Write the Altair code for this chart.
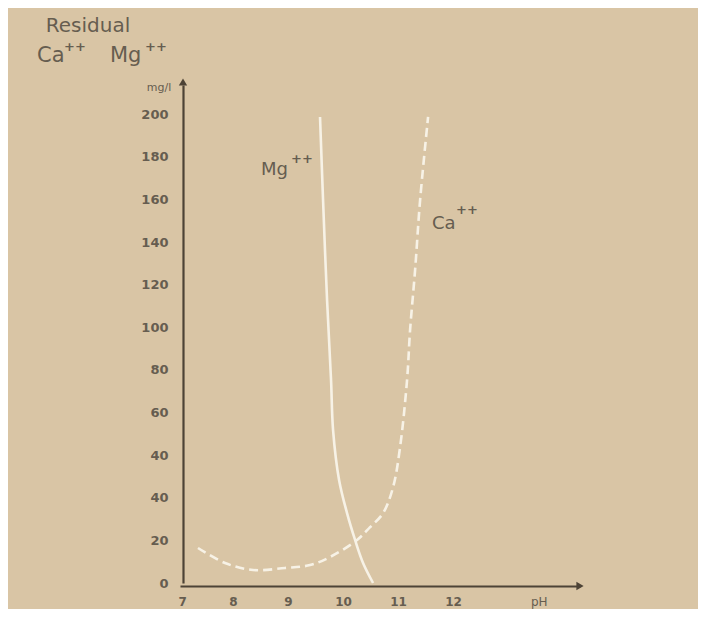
import altair as alt
import pandas as pd

# Tick labels on the vertical axis (as printed, including the repeated 40)
y_tick_labels = ["0", "20", "40", "40", "60", "80", "100", "120", "140", "160", "180", "200"]
x_ticks = [7, 8, 9, 10, 11, 12]

# Mg++ residual curve (pH, position in axis steps)
mg_ph = [9.545, 9.600, 9.673, 9.745, 9.782, 9.891, 10.036, 10.182, 10.327, 10.509]
mg_level = [10.94, 8.99, 6.64, 4.77, 3.59, 2.42, 1.64, 1.01, 0.47, 0.0]

# Ca++ residual curve (pH, position in axis steps)
ca_ph = [7.327, 7.818, 8.327, 8.909, 9.364, 9.727, 10.218, 10.455, 10.691, 10.873,
         11.000, 11.127, 11.182, 11.273, 11.364, 11.509]
ca_level = [0.822, 0.469, 0.305, 0.352, 0.42, 0.61, 1.01, 1.31, 1.64, 2.25,
            3.19, 4.77, 5.94, 7.35, 8.99, 10.94]

BG = "#d9c5a5"
AXIS = "#4d4336"
TXT = "#665d50"
LINE = "#f7f2e6"
W, H = 400, 498

mg = pd.DataFrame({"pH": mg_ph, "level": mg_level})
ca = pd.DataFrame({"pH": ca_ph, "level": ca_level})

xscale = alt.Scale(domain=[7, 14.27], nice=False, zero=False)
yscale = alt.Scale(domain=[0, 11.69], nice=False, zero=False)

label_js = "[" + ",".join("'%s'" % s for s in y_tick_labels) + "]"

xaxis = alt.Axis(values=x_ticks, ticks=False, grid=False, domainColor=AXIS, domainWidth=2.2,
                 labelColor=TXT, labelFontSize=12, labelFont="DejaVu Sans", labelFontWeight="bold",
                 labelPadding=10, title=None, offset=3, labelOffset=-2)
yaxis = alt.Axis(values=list(range(len(y_tick_labels))), ticks=False, grid=False, domainColor=AXIS,
                 domainWidth=2.2, labelColor=TXT, labelFontSize=13, labelFont="DejaVu Sans",
                 labelFontWeight="bold", labelPadding=15, title=None, offset=-3,
                 labelExpr=label_js + "[round(datum.value)]")

mg_line = alt.Chart(mg).mark_line(color=LINE, strokeWidth=2.6, interpolate="catmull-rom").encode(
    x=alt.X("pH:Q", scale=xscale, axis=xaxis),
    y=alt.Y("level:Q", scale=yscale, axis=yaxis),
)
ca_line = alt.Chart(ca).mark_line(color=LINE, strokeWidth=2.6, strokeDash=[9, 5],
                                  interpolate="catmull-rom").encode(
    x=alt.X("pH:Q", scale=xscale),
    y=alt.Y("level:Q", scale=yscale),
)

arrow_df = pd.DataFrame({"a": [0]})
arrow_up = alt.Chart(arrow_df).mark_point(shape="triangle-up", filled=True, color=AXIS, size=70,
                                          opacity=1).encode(x=alt.value(3), y=alt.value(-3))
arrow_right = alt.Chart(arrow_df).mark_point(shape="triangle-right", filled=True, color=AXIS, size=70,
                                             opacity=1).encode(x=alt.value(W), y=alt.value(H + 3))


def label(text, x, y, size, align="left", weight="normal"):
    return alt.Chart(arrow_df).mark_text(text=text, fontSize=size, color=TXT, font="DejaVu Sans",
                                         align=align, baseline="middle", fontWeight=weight).encode(
        x=alt.value(x), y=alt.value(y))


texts = [
    label("Residual", -92, -59, 20, align="center"),
    label("Ca", -143, -29, 21),
    label("++", -116, -38, 13, weight="bold"),
    label("Mg", -70, -29, 21),
    label("++", -35, -38, 13, weight="bold"),
    label("mg/l", -21, 3, 11, align="center"),
    label("Mg", 81, 85, 18),
    label("++", 111, 74, 13, weight="bold"),
    label("Ca", 252, 139, 18),
    label("++", 276, 125, 13, weight="bold"),
    label("pH", 351, 517, 12),
]

chart = alt.layer(mg_line, ca_line, arrow_up, arrow_right, *texts).properties(
    width=W, height=H,
    background=BG,
    padding={"left": 172, "top": 77, "right": 118, "bottom": 26},
    autosize=alt.AutoSizeParams(type="none"),
).configure_view(stroke=None)

chart.save("out.html", embed_options={"renderer": "svg", "actions": False})
